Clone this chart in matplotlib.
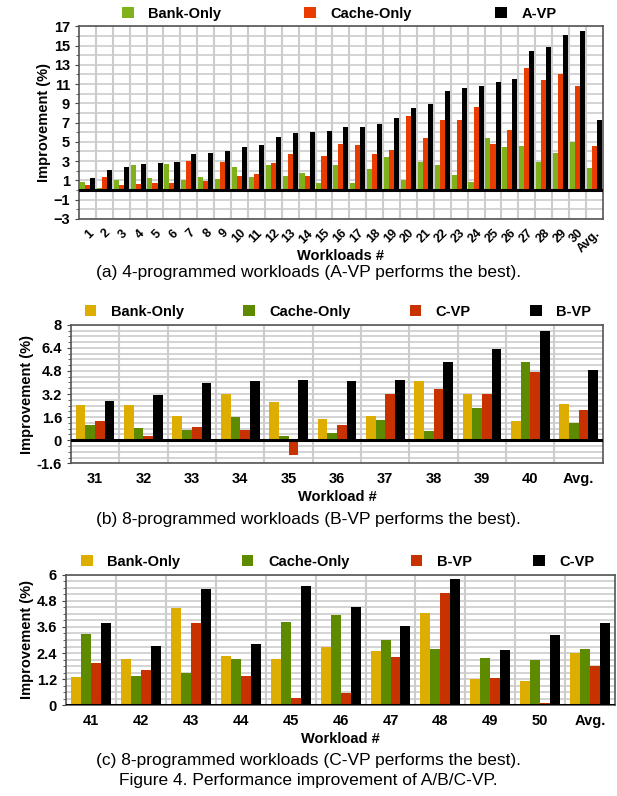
import numpy as np
import matplotlib
matplotlib.use("Agg")
import matplotlib.pyplot as plt
from matplotlib.ticker import MultipleLocator

plt.rcParams['font.family'] = ['Liberation Sans', 'DejaVu Sans']

# ---- panel (a): 4-programmed workloads
labels_a = [str(i) for i in range(1, 31)] + ['Avg.']
bank_a = [0.86, 0.25, 1.0, 2.55, 1.2, 2.75, 1.05, 1.4, 1.15, 2.35, 1.4, 2.55, 1.5, 1.8, 0.75,
          2.55, 0.75, 2.15, 3.4, 1.05, 2.95, 2.55, 1.6, 0.85, 5.4, 4.45, 4.55, 2.95, 3.8, 4.95, 2.25]
cache_a = [0.5, 1.3, 0.5, 0.65, 0.75, 0.75, 3.05, 0.95, 2.95, 1.5, 1.7, 2.85, 3.7, 1.5, 3.5,
           4.75, 4.65, 3.7, 4.15, 7.7, 5.4, 7.3, 7.3, 8.65, 4.75, 6.25, 12.7, 11.4, 12.0, 10.75, 4.55]
avp_a = [1.2, 2.1, 2.4, 2.7, 2.85, 2.95, 3.7, 3.8, 4.0, 4.45, 4.65, 5.5, 5.9, 6.0, 6.1,
         6.5, 6.5, 6.85, 7.5, 8.55, 8.95, 10.25, 10.6, 10.85, 11.2, 11.5, 14.4, 14.8, 16.1, 16.5, 7.3]

# ---- panel (b): 8-programmed workloads, B-VP best
labels_b = [str(i) for i in range(31, 41)] + ['Avg.']
bank_b = [2.44, 2.44, 1.7, 3.22, 2.65, 1.46, 1.67, 4.1, 3.18, 1.3, 2.53]
cache_b = [1.04, 0.86, 0.7, 1.58, 0.28, 0.51, 1.37, 0.65, 2.25, 5.43, 1.16]
cvp_b = [1.35, 0.28, 0.9, 0.7, -1.02, 1.07, 3.18, 3.55, 3.18, 4.71, 2.11]
bvp_b = [2.7, 3.15, 3.95, 4.08, 4.18, 4.1, 4.2, 5.43, 6.29, 7.59, 4.85]

# ---- panel (c): 8-programmed workloads, C-VP best
labels_c = [str(i) for i in range(41, 51)] + ['Avg.']
bank_c = [1.28, 2.12, 4.48, 2.26, 2.12, 2.67, 2.49, 4.22, 1.21, 1.13, 2.4]
cache_c = [3.26, 1.36, 1.47, 2.12, 3.82, 4.13, 3.0, 2.58, 2.15, 2.06, 2.58]
bvp_c = [1.93, 1.61, 3.77, 1.36, 0.34, 0.56, 2.24, 5.16, 1.25, 0.12, 1.82]
cvp_c = [3.77, 2.74, 5.36, 2.83, 5.46, 4.5, 3.66, 5.81, 2.53, 3.25, 3.8]

GREEN_A = '#7fb21a'
RED_A = '#e83c00'
YELLOW = '#ddae00'
GREEN = '#5e8a00'
RED = '#c83200'
GRID = '#cccccc'


def draw_panel(ax, labels, series, names, colors, ylim, major, minor, total_w, rotate):
    n = len(labels)
    x = np.arange(n)
    k = len(series)
    w = total_w / k
    start = -total_w / 2 + w / 2
    for i, (vals, name, col) in enumerate(zip(series, names, colors)):
        ax.bar(x + start + i * w, vals, w, color=col, label=name, zorder=3)
    ax.set_xlim(-0.5, n - 0.5)
    ax.set_ylim(*ylim)
    ax.yaxis.set_major_locator(MultipleLocator(major))
    ax.yaxis.set_minor_locator(MultipleLocator(minor))
    # vertical grid at group boundaries
    for b in np.arange(0.5, n - 1, 1.0):
        ax.axvline(b, color=GRID, lw=1.5, zorder=1)
    ax.grid(True, axis='y', which='both', color=GRID, lw=1.2, zorder=1)
    ax.axhline(0, color='black', lw=2.2, zorder=4)
    ax.set_xticks(x)
    if rotate:
        ax.set_xticklabels(labels, rotation=45, ha='right', rotation_mode='anchor',
                           fontsize=9, fontweight='bold')
    else:
        ax.set_xticklabels(labels, fontsize=10.5, fontweight='bold')
    ax.tick_params(axis='x', length=0, pad=6)
    ax.tick_params(axis='y', which='major', length=3, labelsize=10.5, color='#444')
    ax.tick_params(axis='y', which='minor', length=2, color='#444')
    for t in ax.get_yticklabels():
        t.set_fontweight('bold')
    for s in ax.spines.values():
        s.set_color('#555555')
        s.set_linewidth(1.2)
    ax.set_ylabel('Improvement (%)', fontsize=10.5, fontweight='bold', labelpad=2)
    ax.set_axisbelow(True)


def add_legend(ax, ncol, cx, spacing):
    ax.legend(loc='lower center', bbox_to_anchor=(cx, 0.99), ncol=ncol, frameon=False,
              prop={'weight': 'bold', 'size': 10.5}, handlelength=0.8, handleheight=0.8,
              handletextpad=1.0, columnspacing=spacing, borderaxespad=0.1)


fig = plt.figure(figsize=(6.17, 7.96), dpi=100)

# (a)
ax_a = fig.add_axes([0.128, 0.725, 0.849, 0.242])
draw_panel(ax_a, labels_a, [bank_a, cache_a, avp_a], ['Bank-Only', 'Cache-Only', 'A-VP'],
           [GREEN_A, RED_A, 'black'], (-3, 17), 2, 1, 0.9, True)
ax_a.set_yticks(np.arange(-3, 18, 2))
ax_a.set_xlabel('Workloads #', fontsize=10.5, fontweight='bold', labelpad=-4)
add_legend(ax_a, 3, 0.497, 5.7)
fig.text(0.5, 0.658, '(a) 4-programmed workloads (A-VP performs the best).',
         ha='center', va='center', fontsize=12.5)

# (b)
ax_b = fig.add_axes([0.115, 0.418, 0.862, 0.174])
draw_panel(ax_b, labels_b, [bank_b, cache_b, cvp_b, bvp_b],
           ['Bank-Only', 'Cache-Only', 'C-VP', 'B-VP'],
           [YELLOW, GREEN, RED, 'black'], (-1.6, 8), 1.6, 0.4, 0.8, False)
ax_b.set_yticks([-1.6, 0, 1.6, 3.2, 4.8, 6.4, 8])
ax_b.set_yticklabels(['-1.6', '0', '1.6', '3.2', '4.8', '6.4', '8'], fontweight='bold')
ax_b.set_xlabel('Workload #', fontsize=10.5, fontweight='bold', labelpad=3)
add_legend(ax_b, 4, 0.502, 4.05)
fig.text(0.5, 0.347, '(b) 8-programmed workloads (B-VP performs the best).',
         ha='center', va='center', fontsize=12.5)

# (c)
ax_c = fig.add_axes([0.107, 0.114, 0.890, 0.164])
draw_panel(ax_c, labels_c, [bank_c, cache_c, bvp_c, cvp_c],
           ['Bank-Only', 'Cache-Only', 'B-VP', 'C-VP'],
           [YELLOW, GREEN, RED, 'black'], (0, 6), 1.2, 0.3, 0.8, False)
ax_c.set_yticks([0, 1.2, 2.4, 3.6, 4.8, 6])
ax_c.set_yticklabels(['0', '1.2', '2.4', '3.6', '4.8', '6'], fontweight='bold')
ax_c.set_xlabel('Workload #', fontsize=10.5, fontweight='bold', labelpad=3)
add_legend(ax_c, 4, 0.495, 4.2)
fig.text(0.5, 0.045, '(c) 8-programmed workloads (C-VP performs the best).',
         ha='center', va='center', fontsize=12.5)
fig.text(0.5, 0.019, 'Figure 4. Performance improvement of A/B/C-VP.',
         ha='center', va='center', fontsize=12.5)

fig.savefig('out.png', dpi=100)
